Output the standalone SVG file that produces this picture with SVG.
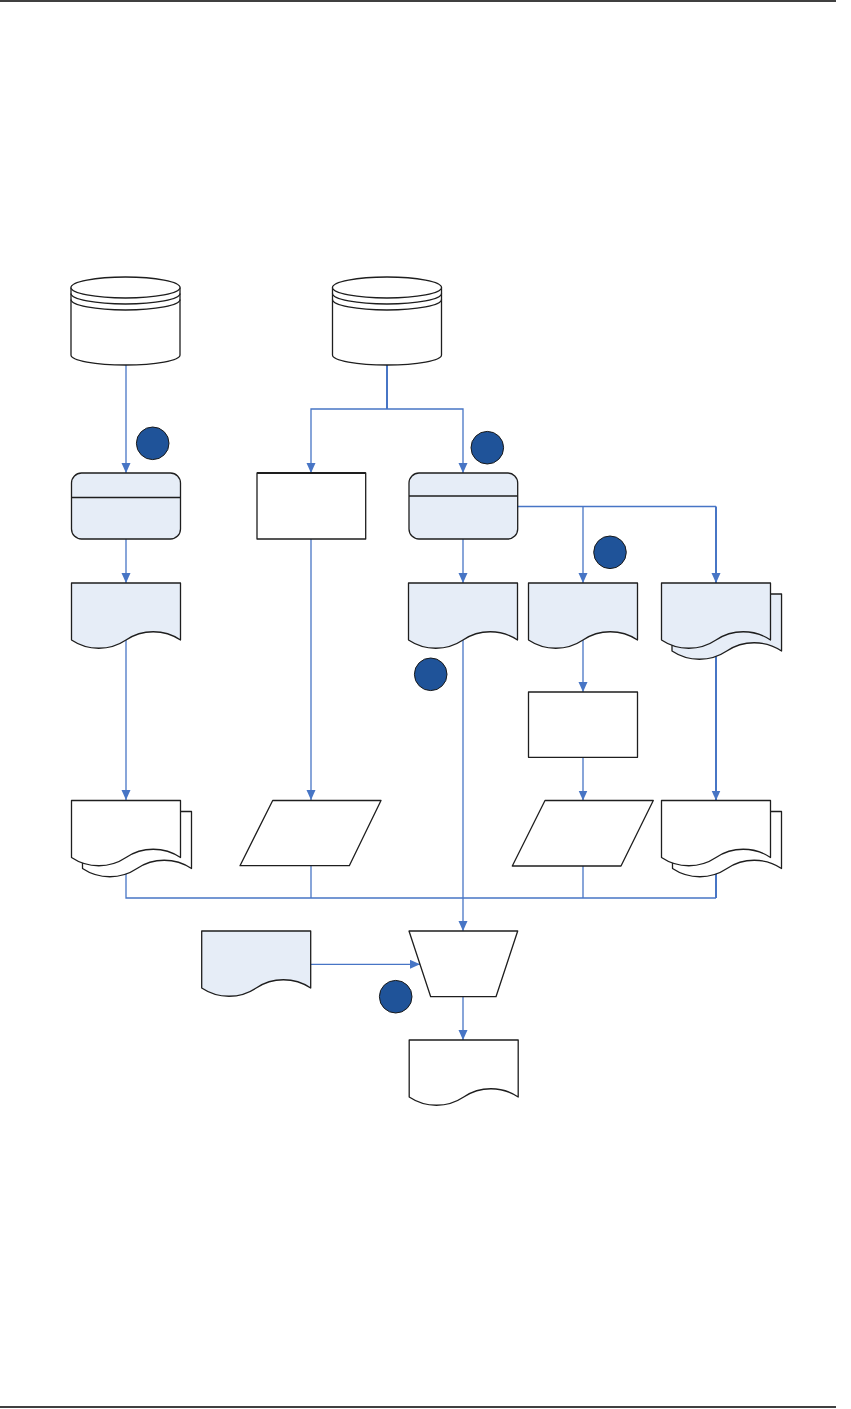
<svg xmlns="http://www.w3.org/2000/svg" xmlns:xlink="http://www.w3.org/1999/xlink" width="851" height="1409" viewBox="0 0 851 1409">
<style>
.sh{stroke:#1e1e1e;stroke-width:1.3;stroke-linejoin:round}
.blue{fill:#E6EDF7}
.white{fill:#FFFFFF}
.con{fill:none;stroke:#4775C5;stroke-width:1.3}
.thick{stroke-width:2}
.dot{fill:#1F5399;stroke:#1a1a1a;stroke-width:1}
.rule{stroke:#000;stroke-width:1.5}
</style>
<defs>
<marker id="arr" markerWidth="10" markerHeight="10" refX="10" refY="4.5" orient="auto" markerUnits="userSpaceOnUse">
<path d="M0,0 L10,4.5 L0,9 Z" fill="#4775C5"/>
</marker>
<path id="doc" d="M0,0 H109 V57 C92.6,46 70.8,46 54.5,57 C38.2,68 16.4,68 0,57 Z"/>
<g id="cyl">
<path d="M0,10.5 V78 A54.5,10 0 0 0 109,78 V10.5" class="white"/>
<ellipse cx="54.5" cy="10.5" rx="54.5" ry="10.5" class="white"/>
<path d="M0,16.5 A54.5,10.5 0 0 0 109,16.5 M0,22.5 A54.5,10.5 0 0 0 109,22.5" fill="none"/>
</g>
</defs>
<line x1="0" y1="1" x2="836" y2="1" class="rule"/>
<line x1="0" y1="1407" x2="836" y2="1407" class="rule"/>
<g id="connectors">
<path class="con" d="M126,365 V473" marker-end="url(#arr)"/>
<path class="con" d="M126,539 V583" marker-end="url(#arr)"/>
<path class="con" d="M126,640 V800" marker-end="url(#arr)"/>
<path class="con thick" d="M387,365 V409"/>
<path class="con" d="M387,409 H311 V473" marker-end="url(#arr)"/>
<path class="con" d="M387,409 H463 V473" marker-end="url(#arr)"/>
<path class="con" d="M311,539 V800" marker-end="url(#arr)"/>
<path class="con" d="M463,539 V583" marker-end="url(#arr)"/>
<path class="con" d="M517,506.5 H716"/>
<path class="con" d="M583,506.5 V583" marker-end="url(#arr)"/>
<path class="con thick" d="M716,506.5 V583" marker-end="url(#arr)"/>
<path class="con" d="M463,640 V931" marker-end="url(#arr)"/>
<path class="con" d="M583,640 V692" marker-end="url(#arr)"/>
<path class="con" d="M583,757 V800.5" marker-end="url(#arr)"/>
<path class="con thick" d="M716,650 V800.5" marker-end="url(#arr)"/>
<path class="con" d="M126,860 V898 H716"/>
<path class="con" d="M311,865 V898"/>
<path class="con" d="M583,865 V898"/>
<path class="con thick" d="M716,865 V898"/>
<path class="con" d="M310,964.3 H420" marker-end="url(#arr)"/>
<path class="con" d="M463,996 V1040" marker-end="url(#arr)"/>
</g>
<g id="db1" class="sh"><use xlink:href="#cyl" x="71" y="277"/></g>
<g id="db2" class="sh"><use xlink:href="#cyl" x="332.5" y="277"/></g>
<g id="proc1" class="sh"><rect x="71.5" y="473" width="109" height="66" rx="10" class="blue"/><line x1="71.5" y1="497.5" x2="180.5" y2="497.5"/></g>
<g id="rect2" class="sh"><rect x="257" y="473" width="108.7" height="66" class="white"/><line x1="257" y1="473" x2="365.7" y2="473" stroke-width="2"/></g>
<g id="proc3" class="sh"><rect x="409" y="473" width="108.7" height="66" rx="10" class="blue"/><line x1="409" y1="496" x2="517.7" y2="496"/></g>
<g id="doc1" class="sh blue"><use xlink:href="#doc" x="71.5" y="583"/></g>
<g id="docA" class="sh blue"><use xlink:href="#doc" x="408.5" y="583"/></g>
<g id="docB" class="sh blue"><use xlink:href="#doc" x="528.5" y="583"/></g>
<g id="mdocC" class="sh blue"><use xlink:href="#doc" x="672" y="594" transform="translate(672,594) scale(1.005,1) translate(-672,-594)"/><use xlink:href="#doc" x="661.5" y="583"/></g>
<g id="rect4" class="sh"><rect x="528.5" y="692" width="109" height="65.3" class="white"/></g>
<g id="mdocD" class="sh white"><use xlink:href="#doc" x="82.5" y="811.5"/><use xlink:href="#doc" x="71.5" y="800.5"/></g>
<g id="para1" class="sh"><path d="M272.7,800.5 H381 L349.3,865.7 H240 Z" class="white"/></g>
<g id="para2" class="sh"><path d="M545,800.5 H653.3 L621,866 H512.3 Z" class="white"/></g>
<g id="mdocE" class="sh white"><use xlink:href="#doc" x="672.5" y="811.5"/><use xlink:href="#doc" x="661.5" y="800.5"/></g>
<g id="docF" class="sh blue"><use xlink:href="#doc" x="201.7" y="931"/></g>
<g id="trap" class="sh"><path d="M409,931 H517.7 L496,996.7 H430.7 Z" class="white"/></g>
<g id="docG" class="sh white"><use xlink:href="#doc" x="409.2" y="1040"/></g>
<g id="m1"><circle cx="152.7" cy="443.3" r="16.3" class="dot"/></g>
<g id="m2"><circle cx="487.3" cy="447.7" r="16.3" class="dot"/></g>
<g id="m3"><circle cx="610" cy="552.3" r="16.3" class="dot"/></g>
<g id="m4"><circle cx="430.7" cy="674.3" r="16.3" class="dot"/></g>
<g id="m5"><circle cx="395.7" cy="996.7" r="16.3" class="dot"/></g>
</svg>
